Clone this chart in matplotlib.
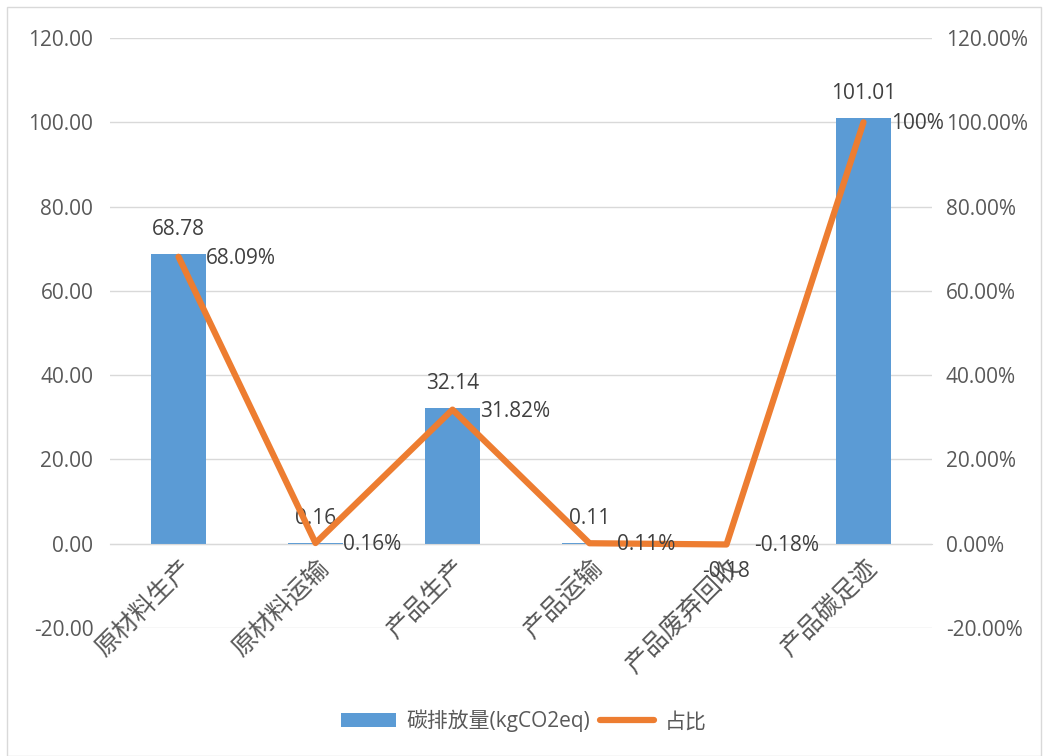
import matplotlib
matplotlib.use("Agg")
import matplotlib.pyplot as plt
from matplotlib.patches import Rectangle

categories = ["原材料生产", "原材料运输", "产品生产", "产品运输", "产品废弃回收", "产品碳足迹"]
emissions = [68.78, 0.16, 32.14, 0.11, -0.18, 101.01]
shares = [68.09, 0.16, 31.82, 0.11, -0.18, 100.0]
share_labels = ["68.09%", "0.16%", "31.82%", "0.11%", "-0.18%", "100%"]
left_ticks = [-20, 0, 20, 40, 60, 80, 100, 120]

plt.rcParams['font.family'] = ['Open Sans', 'Noto Sans CJK SC', 'DejaVu Sans']
txt = '#404040'
tick_c = '#595959'
blue = '#5B9BD5'
orange = '#ED7D31'
fs = 15

fig = plt.figure(figsize=(10.48, 7.56), dpi=100)
ax = fig.add_axes([110/1048, 1-628/756, 822/1048, 590/756])
ax2 = ax.twinx()

x = list(range(len(categories)))
ax.bar(x, emissions, width=0.4, color=blue, zorder=2, label="碳排放量(kgCO2eq)")
ax.set_xlim(-0.5, len(categories)-0.5)
ax.set_ylim(-20, 120)
ax.set_yticks(left_ticks)
ax.set_yticklabels([f"{v:.2f}" for v in left_ticks], fontsize=fs, color=tick_c)
ax.grid(axis='y', color='#d9d9d9', linewidth=1, zorder=0)
ax.set_axisbelow(True)
for s in ['top', 'left', 'right']:
    ax.spines[s].set_visible(False)
ax.spines['bottom'].set_position(('data', 0))
ax.spines['bottom'].set_color('#d9d9d9')
ax.tick_params(axis='y', length=0, pad=12)
ax.tick_params(axis='x', length=0, pad=8)
ax.set_xticks(x)
ax.set_xticklabels(categories, rotation=45, ha='right', rotation_mode='anchor',
                   fontsize=18, color=tick_c, family=['Noto Sans CJK SC'], fontweight='light')

ax2.plot(x, shares, color=orange, linewidth=4.5, solid_capstyle='round', zorder=3, label="占比")
ax2.set_ylim(-20, 120)
ax2.set_yticks(left_ticks)
ax2.set_yticklabels([f"{v:.2f}%" for v in left_ticks], fontsize=fs, color=tick_c)
ax2.tick_params(axis='y', length=0, pad=10)
for s in ['top', 'left', 'right', 'bottom']:
    ax2.spines[s].set_visible(False)

# bar value labels
for xi, v in zip(x, emissions):
    if v >= 0:
        ax.annotate(f"{v:.2f}", (xi, v), xytext=(0, 10), textcoords='offset points',
                    ha='center', va='bottom', fontsize=fs, color=txt, zorder=5)
    else:
        ax.annotate(f"{v:.2f}", (xi, v), xytext=(0, -12), textcoords='offset points',
                    ha='center', va='top', fontsize=fs, color=txt, zorder=5)
# line labels
for xi, v, s in zip(x, shares, share_labels):
    ax2.annotate(s, (xi, v), xytext=(20, -1), textcoords='offset points',
                 ha='left', va='center', fontsize=fs, color=txt, zorder=5)

h1, l1 = ax.get_legend_handles_labels()
h2, l2 = ax2.get_legend_handles_labels()
fig.legend(h1 + h2, l1 + l2, loc='center', bbox_to_anchor=(0.5, 1-721/756), ncol=2,
           frameon=False, labelcolor=tick_c, handlelength=2.6, columnspacing=0.5,
           handletextpad=0.5, prop={'family': ['Open Sans', 'Noto Sans CJK SC'], 'size': fs})

fig.patches.append(Rectangle((7/1048, 0), 1 - 14/1048, 1 - 7/756, transform=fig.transFigure,
                             fill=False, edgecolor='#d9d9d9', linewidth=1))

fig.savefig("out.png", dpi=100)
